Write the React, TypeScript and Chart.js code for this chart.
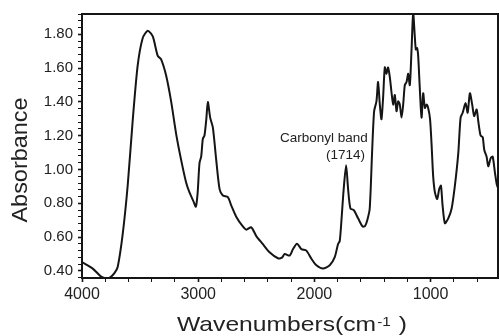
import { useEffect, useRef } from 'react';
import { Chart, registerables } from 'chart.js';

Chart.register(...registerables);

const WAVENUMBERS = [
  4000, 3910, 3836, 3800, 3764, 3721, 3693, 3650, 3607, 3564, 3521, 3478, 3434, 3391, 3348, 3319,
  3276, 3233, 3190, 3147, 3104, 3075, 3040, 3020, 3005, 2989, 2974, 2960, 2946, 2930, 2917, 2897,
  2874, 2845, 2816, 2788, 2745, 2716, 2673, 2616, 2586, 2543, 2500, 2443, 2386, 2314, 2280, 2256,
  2213, 2184, 2150, 2112, 2069, 2026, 1983, 1926, 1868, 1825, 1797, 1782, 1768, 1748, 1727, 1710,
  1690, 1661, 1624, 1586, 1565, 1545, 1524, 1504, 1486, 1466, 1452, 1437, 1423, 1409, 1394, 1380,
  1366, 1351, 1337, 1322, 1308, 1293, 1279, 1265, 1250, 1236, 1222, 1207, 1193, 1179, 1164, 1150,
  1136, 1127, 1116, 1107, 1093, 1078, 1064, 1049, 1035, 1021, 1005, 992, 978, 963, 943, 926,
  911, 897, 877, 848, 819, 791, 762, 742, 724, 699, 681, 662, 642, 625, 604, 590,
  570, 552, 538, 518, 504, 483, 466, 446, 431, 420,
];

const ABSORBANCE = [
  0.452, 0.415, 0.366, 0.357, 0.358, 0.387, 0.423, 0.616, 0.904, 1.287, 1.614, 1.777, 1.821, 1.787, 1.672, 1.652,
  1.556, 1.403, 1.211, 1.057, 0.923, 0.864, 0.81, 0.78, 0.86, 1.037, 1.078, 1.182, 1.201, 1.3, 1.399, 1.307,
  1.249, 1.057, 0.884, 0.846, 0.836, 0.788, 0.721, 0.663, 0.644, 0.658, 0.606, 0.558, 0.51, 0.475, 0.478, 0.5,
  0.491, 0.529, 0.561, 0.529, 0.52, 0.472, 0.433, 0.414, 0.433, 0.481, 0.558, 0.577, 0.692, 0.884, 1.025, 0.884,
  0.769, 0.76, 0.711, 0.663, 0.665, 0.7, 0.769, 1.095, 1.345, 1.403, 1.518, 1.384, 1.297, 1.422, 1.604, 1.566,
  1.604, 1.547, 1.46, 1.384, 1.441, 1.345, 1.403, 1.384, 1.307, 1.384, 1.499, 1.518, 1.566, 1.499, 1.71, 1.925,
  1.787, 1.71, 1.719, 1.672, 1.48, 1.307, 1.451, 1.364, 1.384, 1.364, 1.3, 1.153, 0.961, 0.865, 0.826, 0.884,
  0.904, 0.788, 0.682, 0.711, 0.769, 0.904, 1.095, 1.307, 1.336, 1.393, 1.336, 1.451, 1.384, 1.316, 1.355, 1.287,
  1.201, 1.192, 1.115, 1.076, 1.019, 1.067, 1.076, 0.98, 0.913, 0.89,
];

const X_LABELED = [4000, 3000, 2000, 1000];
const Y_LABELED = [0.4, 0.6, 0.8, 1.0, 1.2, 1.4, 1.6, 1.8];
const X_RANGE = [420, 4000];
const Y_RANGE = [0.358, 1.92];
const X_STEP = 200;
const Y_STEP = 0.04;

const Y_TITLE = 'Absorbance';
const X_TITLE_MAIN = 'Wavenumbers(cm';
const X_TITLE_SUP = '-1';
const X_TITLE_END = ' )';
const ANNOTATION_TEXT = ['Carbonyl band', '(1714)'];
const ANNOTATION_WN = [1540, 1565];
const ANNOTATION_ABS = [1.16, 1.062];

const FONT = '"Liberation Sans", Arial, Helvetica, sans-serif';
const INK = '#151515';

const isLabeled = (v: number, list: number[]) => list.some((l) => Math.abs(l - v) < 1e-6);

const stepValues = (lo: number, hi: number, step: number) => {
  const out: number[] = [];
  const start = Math.ceil(lo / step - 1e-9);
  const end = Math.floor(hi / step + 1e-9);
  for (let k = start; k <= end; k++) out.push(Math.round(k * step * 1e6) / 1e6);
  return out;
};

const decorPlugin = {
  id: 'decor',
  afterDraw(chart: any) {
    const { ctx, chartArea: a, scales } = chart;
    ctx.save();
    ctx.strokeStyle = INK;
    ctx.lineWidth = 2;
    ctx.strokeRect(a.left, a.top, a.right - a.left, a.bottom - a.top);

    ctx.fillStyle = '#222';
    // y title
    ctx.save();
    ctx.translate(27, 160);
    ctx.rotate(-Math.PI / 2);
    ctx.font = `22px ${FONT}`;
    ctx.textAlign = 'center';
    ctx.textBaseline = 'alphabetic';
    const yw = ctx.measureText(Y_TITLE).width;
    ctx.scale(125 / yw, 1);
    ctx.fillText(Y_TITLE, 0, 0);
    ctx.restore();

    // x title
    ctx.save();
    ctx.textBaseline = 'alphabetic';
    ctx.textAlign = 'left';
    const bigFont = `21px ${FONT}`;
    const smallFont = `13px ${FONT}`;
    ctx.font = bigFont;
    const w1 = ctx.measureText(X_TITLE_MAIN).width;
    const w3 = ctx.measureText(X_TITLE_END).width;
    ctx.font = smallFont;
    const w2 = ctx.measureText(X_TITLE_SUP).width;
    const total = w1 + w2 + 2 + w3;
    const sc = 230 / total;
    ctx.translate(292 - 115, 331);
    ctx.scale(sc, 1);
    let sx = 0;
    ctx.font = bigFont;
    ctx.fillText(X_TITLE_MAIN, sx, 0);
    sx += w1 + 1;
    ctx.font = smallFont;
    ctx.fillText(X_TITLE_SUP, sx, -5);
    sx += w2 + 1;
    ctx.font = bigFont;
    ctx.fillText(X_TITLE_END, sx, 0);
    ctx.restore();

    // annotation
    ctx.font = `13.5px ${FONT}`;
    ctx.textAlign = 'right';
    ctx.textBaseline = 'alphabetic';
    ANNOTATION_TEXT.forEach((t, i) => {
      ctx.fillText(t, scales.x.getPixelForValue(ANNOTATION_WN[i]), scales.y.getPixelForValue(ANNOTATION_ABS[i]));
    });
    ctx.restore();
  },
};

export default function App() {
  const ref = useRef<HTMLCanvasElement | null>(null);

  useEffect(() => {
    if (!ref.current) return;
    const points = WAVENUMBERS.map((wn, i) => ({ x: wn, y: ABSORBANCE[i] }));
    const chart = new Chart(ref.current, {
      type: 'line',
      data: {
        datasets: [
          {
            data: points,
            borderColor: INK,
            borderWidth: 2,
            pointRadius: 0,
            tension: 0.25,
            fill: false,
          },
        ],
      },
      options: {
        animation: false,
        responsive: false,
        maintainAspectRatio: false,
        layout: { padding: { top: 7, right: 1, left: 0, bottom: 0 } },
        plugins: { legend: { display: false }, tooltip: { enabled: false } },
        scales: {
          x: {
            type: 'linear',
            reverse: true,
            min: X_RANGE[0],
            max: X_RANGE[1],
            afterBuildTicks: (s: any) => {
              s.ticks = stepValues(X_RANGE[0], X_RANGE[1], X_STEP).map((v) => ({ value: v }));
            },
            afterFit: (s: any) => {
              s.height = 58;
            },
            border: { display: true, color: INK, width: 2 },
            grid: {
              display: true,
              drawOnChartArea: false,
              drawTicks: true,
              tickLength: 4,
              tickColor: INK,
              tickWidth: (c: any) => (c.tick && isLabeled(c.tick.value, X_LABELED) ? 1.6 : 1),
            },
            ticks: {
              autoSkip: false,
              maxRotation: 0,
              minRotation: 0,
              padding: 3,
              color: '#222',
              font: { family: FONT, size: 16 },
              callback: (v: any) => (isLabeled(Number(v), X_LABELED) ? String(Math.round(Number(v))) : ''),
            },
          },
          y: {
            type: 'linear',
            min: Y_RANGE[0],
            max: Y_RANGE[1],
            afterBuildTicks: (s: any) => {
              s.ticks = stepValues(Y_RANGE[0], Y_RANGE[1], Y_STEP).map((v) => ({ value: v }));
            },
            afterFit: (s: any) => {
              s.width = 82;
            },
            border: { display: true, color: INK, width: 2 },
            grid: {
              display: true,
              drawOnChartArea: false,
              drawTicks: true,
              tickLength: 4,
              tickColor: INK,
              tickWidth: (c: any) => (c.tick && isLabeled(c.tick.value, Y_LABELED) ? 1.6 : 1),
            },
            ticks: {
              autoSkip: false,
              padding: 5,
              color: '#222',
              font: { family: FONT, size: 15 },
              callback: (v: any) => (isLabeled(Number(v), Y_LABELED) ? Number(v).toFixed(2) : ''),
            },
          },
        },
      },
      plugins: [decorPlugin],
    });
    return () => chart.destroy();
  }, []);

  return (
    <div style={{ position: 'fixed', left: 0, top: 0, width: 499, height: 336, background: '#fff' }}>
      <canvas ref={ref} width={499} height={336} style={{ width: 499, height: 336, display: 'block' }} />
    </div>
  );
}
